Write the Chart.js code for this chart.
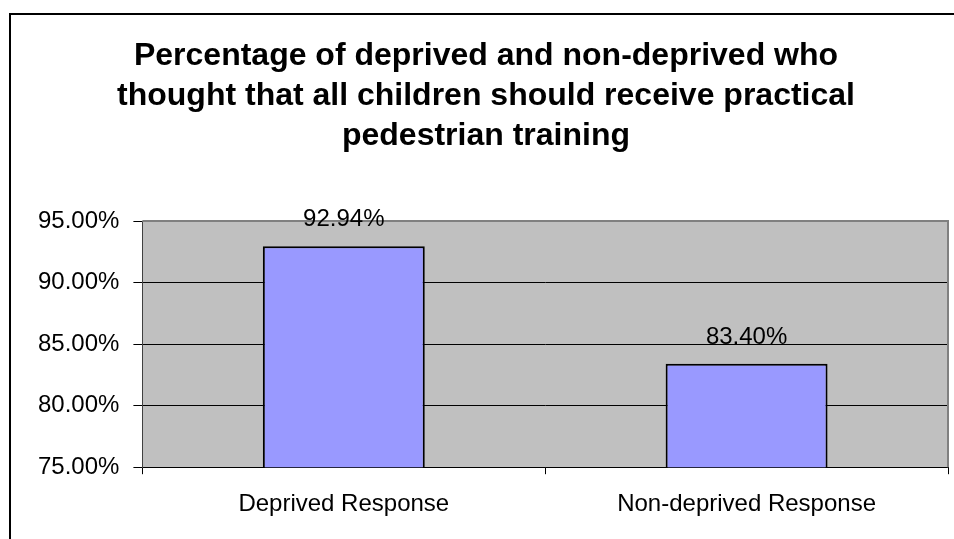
<!DOCTYPE html>
<html>
    <head>
        <title>Pedestrian training chart</title>
        <meta charset="utf-8">
        <script src="https://cdn.jsdelivr.net/npm/chart.js"></script>
        <style>
            body { margin: 0; background: #fff; overflow: hidden; }
            .frame { position: absolute; left: 9px; top: 13px; width: 1100px; height: 700px; border-top: 2px solid #000; border-left: 2px solid #000; }
            .chart-box { position: absolute; left: 0; top: 0; width: 974px; height: 539px; }
        </style>
    </head>
    <body>
        <div class="frame"></div>
        <div class="chart-box">
            <canvas id="trainingChart"></canvas>
        </div>
        <script>
            const categories = ['Deprived Response', 'Non-deprived Response'];
            const percentages = [92.94, 83.40];
            const titleLines = [
                'Percentage of deprived and non-deprived who',
                'thought that all children should receive practical',
                'pedestrian training'
            ];
            const yMin = 75;
            const yMax = 95;
            const yStep = 5;

            // grey plot area like the old spreadsheet chart
            const plotArea = {
                id: 'plotArea',
                beforeDraw(chart) {
                    const { ctx, chartArea: a } = chart;
                    ctx.save();
                    ctx.fillStyle = '#C0C0C0';
                    ctx.fillRect(a.left, a.top, a.right - a.left, a.bottom - a.top);
                    ctx.restore();
                },
                beforeDatasetsDraw(chart) {
                    const { ctx, chartArea: a } = chart;
                    ctx.save();
                    ctx.strokeStyle = '#808080';
                    ctx.lineWidth = 2;
                    ctx.beginPath();
                    ctx.moveTo(a.left, a.top);
                    ctx.lineTo(a.right, a.top);
                    ctx.lineTo(a.right, a.bottom);
                    ctx.stroke();
                    ctx.restore();
                }
            };

            const valueLabels = {
                id: 'valueLabels',
                afterDatasetsDraw(chart) {
                    const { ctx } = chart;
                    const meta = chart.getDatasetMeta(0);
                    ctx.save();
                    ctx.font = '24px "Liberation Sans", Arial, sans-serif';
                    ctx.fillStyle = '#000';
                    ctx.textAlign = 'center';
                    ctx.textBaseline = 'alphabetic';
                    meta.data.forEach((bar, i) => {
                        ctx.fillText(percentages[i].toFixed(2) + '%', bar.x, bar.y - 20);
                    });
                    ctx.restore();
                }
            };

            const chart = new Chart(document.getElementById('trainingChart'), {
                type: 'bar',
                data: {
                    labels: categories,
                    datasets: [{
                        data: percentages,
                        backgroundColor: '#9999FF',
                        borderColor: '#000',
                        borderWidth: 2,
                        categoryPercentage: 1,
                        barPercentage: 0.402
                    }]
                },
                options: {
                    responsive: true,
                    maintainAspectRatio: false,
                    animation: false,
                    layout: { padding: { left: 24, right: 26, bottom: 4 } },
                    plugins: {
                        legend: { display: false },
                        tooltip: { enabled: false },
                        title: {
                            display: true,
                            text: titleLines,
                            color: '#000',
                            font: { family: '"Liberation Sans", Arial, sans-serif', size: 32, weight: 'bold', lineHeight: 1.25 },
                            padding: { top: 36, bottom: 65 }
                        }
                    },
                    scales: {
                        x: {
                            offset: true,
                            grid: { offset: true, drawOnChartArea: false, drawTicks: true, tickLength: 7, color: '#000' },
                            border: { color: '#000', width: 1 },
                            ticks: {
                                color: '#000',
                                padding: 16,
                                font: { family: '"Liberation Sans", Arial, sans-serif', size: 24 }
                            }
                        },
                        y: {
                            min: yMin,
                            max: yMax,
                            grid: {
                                color: (c) => (c.tick && c.tick.value === yMax ? '#808080' : '#000'),
                                tickColor: '#000',
                                tickLength: 9
                            },
                            border: { color: '#404040', width: 1 },
                            ticks: {
                                stepSize: yStep,
                                color: '#000',
                                padding: 14,
                                font: { family: '"Liberation Sans", Arial, sans-serif', size: 24 },
                                callback: (v) => v.toFixed(2) + '%'
                            }
                        }
                    }
                },
                plugins: [plotArea, valueLabels]
            });
        </script>
    </body>
</html>
